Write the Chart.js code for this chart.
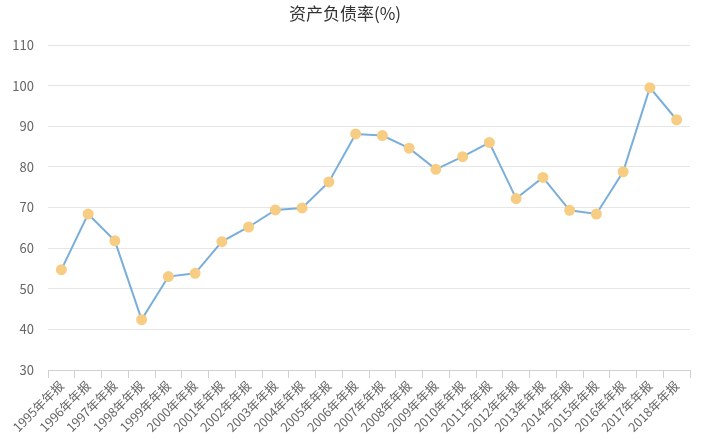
<!DOCTYPE html>
<html>
<head>
<meta charset="utf-8">
<script src="https://cdn.jsdelivr.net/npm/chart.js@4"></script>
<style>
html,body{margin:0;padding:0;background:#fff;}
#wrap{width:702px;height:441px;position:relative;}
</style>
</head>
<body>
<div id="wrap"><canvas id="c" width="702" height="441"></canvas></div>
<script>
const categories = ["1995年年报","1996年年报","1997年年报","1998年年报","1999年年报","2000年年报","2001年年报","2002年年报","2003年年报","2004年年报","2005年年报","2006年年报","2007年年报","2008年年报","2009年年报","2010年年报","2011年年报","2012年年报","2013年年报","2014年年报","2015年年报","2016年年报","2017年年报","2018年年报"];
const debtRatio = [54.7,68.4,61.8,42.4,53.0,53.8,61.6,65.2,69.4,69.9,76.3,88.1,87.7,84.6,79.4,82.5,86.0,72.2,77.4,69.3,68.4,78.8,99.5,91.6];
const titleText = "资产负债率(%)";
const yMin = 30, yMax = 110, yStep = 10;

const font = "'Noto Sans CJK SC','Noto Sans',sans-serif";
new Chart(document.getElementById('c'), {
  type: 'line',
  data: {
    labels: categories,
    datasets: [{
      data: debtRatio,
      borderColor: '#7aaedb',
      borderWidth: 2,
      pointBackgroundColor: '#f7cd84',
      pointBorderColor: '#f7cd84',
      pointRadius: 4.5,
      tension: 0,
      fill: false
    }]
  },
  options: {
    responsive: false,
    animation: false,
    devicePixelRatio: 1,
    layout: { padding: { left: 0, right: 12, top: 0, bottom: 0 } },
    plugins: {
      legend: { display: false },
      tooltip: { enabled: false },
      title: {
        display: true,
        text: titleText,
        color: '#333',
        font: { family: font, size: 17, weight: 'normal' },
        padding: { top: 3, bottom: 21.6 }
      }
    },
    scales: {
      x: {
        offset: true,
        grid: { drawOnChartArea: false, drawTicks: true, tickLength: 8, color: '#d0d0d0', offset: true },
        border: { display: true, color: '#d0d0d0' },
        ticks: {
          color: '#666',
          font: { family: font, size: 12.5 },
          minRotation: 45, maxRotation: 45,
          autoSkip: false,
          padding: 0
        },
        afterFit(s) { s.height = 71; }
      },
      y: {
        min: yMin, max: yMax,
        ticks: {
          stepSize: yStep,
          color: '#666',
          font: { family: font, size: 13 },
          padding: 14
        },
        grid: { color: '#e6e6e6', drawTicks: false },
        border: { display: false },
        afterFit(s) { s.width = 48; }
      }
    }
  }
});
</script>
</body>
</html>
